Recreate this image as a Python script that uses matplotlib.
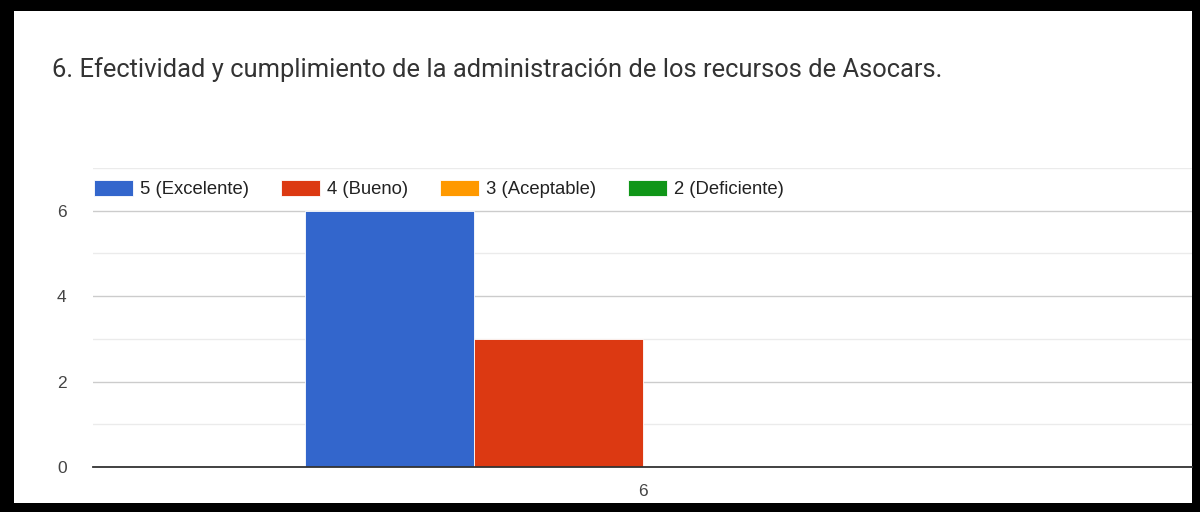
import matplotlib.pyplot as plt
from matplotlib.patches import Rectangle
import numpy as np

# data
categories = ['6']
series_names = ['5 (Excelente)', '4 (Bueno)', '3 (Aceptable)', '2 (Deficiente)']
series_values = [6, 3, 0, 0]
series_colors = ['#3366cc', '#dc3912', '#ff9900', '#109618']
title = '6. Efectividad y cumplimiento de la administración de los recursos de Asocars.'

W, H = 1200, 512
fig = plt.figure(figsize=(W / 100, H / 100), dpi=100)
fig.patch.set_facecolor('black')

# white card inside the black frame
fig.patches.append(Rectangle((14 / W, 1 - 503 / H), (1192 - 14) / W, (503 - 11) / H,
                             transform=fig.transFigure, facecolor='white',
                             edgecolor='none', zorder=0))

fig.text(52 / W, 1 - 70 / H, title, fontsize=18.4, family='Roboto',
         color='#333333', va='center', ha='left')

# plot area: x 93..1192, y 168 (7) .. 467 (0)
ax = fig.add_axes([93 / W, 1 - 467 / H, (1192 - 93) / W, (467 - 168) / H])
ax.set_facecolor('none')
ax.set_zorder(1)

x = np.arange(len(categories))
w = 0.1535
n = len(series_names)
for i, (name, val, col) in enumerate(zip(series_names, series_values, series_colors)):
    ax.bar(x + (i - (n - 1) / 2) * w, [val], width=w, color=col, label=name,
           edgecolor='white', linewidth=0.6, zorder=3)

ax.set_xlim(-0.5, 0.5)
ax.set_ylim(0, 7)
ax.set_yticks([0, 2, 4, 6])
ax.set_yticks([1, 3, 5, 7], minor=True)
ax.grid(axis='y', which='major', color='#cccccc', linewidth=1, zorder=0)
ax.grid(axis='y', which='minor', color='#ebebeb', linewidth=1, zorder=0)
ax.set_xticks(x)
ax.set_xticklabels(categories)
ax.tick_params(axis='both', which='both', length=0, labelsize=12.5, colors='#444444')
ax.tick_params(axis='y', pad=19)
ax.tick_params(axis='x', pad=12)
for lab in ax.get_xticklabels() + ax.get_yticklabels():
    lab.set_family('Liberation Sans')
for s in ['top', 'right', 'left']:
    ax.spines[s].set_visible(False)
ax.spines['bottom'].set_color('#333333')
ax.spines['bottom'].set_linewidth(1.3)
ax.spines['bottom'].set_zorder(4)

leg = ax.legend(loc='lower left', bbox_to_anchor=(0.001, 1.0 - 30 / 299), ncol=4,
                frameon=False, prop={'family': 'Liberation Sans', 'size': 13.3},
                handlelength=2.1, handleheight=0.95, handletextpad=0.4,
                columnspacing=1.72, borderaxespad=0, borderpad=0)
for t in leg.get_texts():
    t.set_color('#222222')

fig.savefig('out.png', dpi=100, facecolor=fig.get_facecolor())
